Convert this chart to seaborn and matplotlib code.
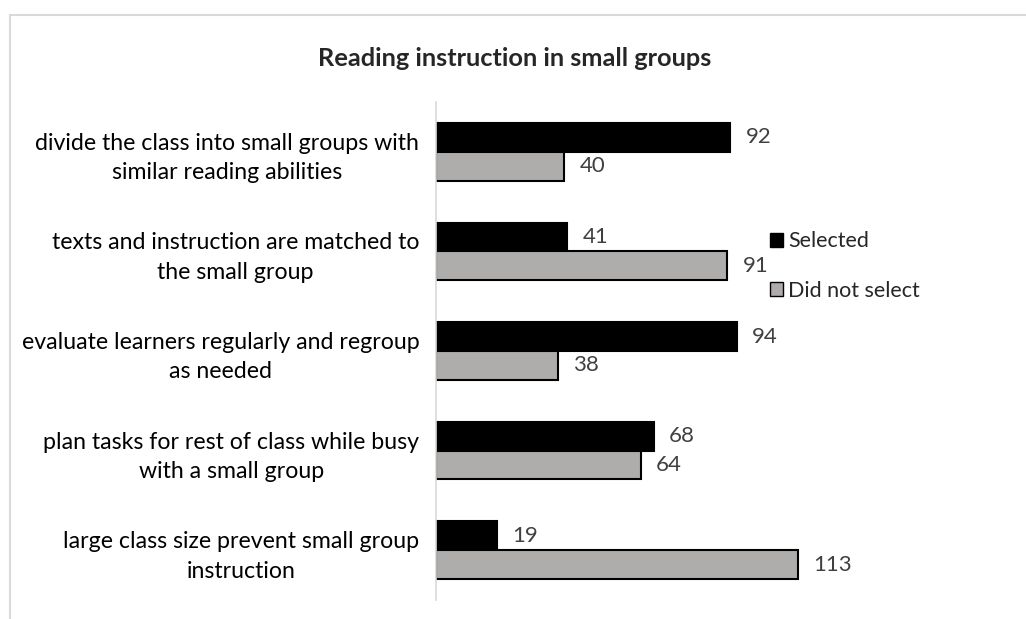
import matplotlib
matplotlib.use("Agg")
import matplotlib.pyplot as plt
import seaborn as sns
import pandas as pd
from matplotlib.patches import Patch

categories = [
    "divide the class into small groups with\nsimilar reading abilities",
    "texts and instruction are matched to\nthe small group",
    "evaluate learners regularly and regroup\nas needed",
    "plan tasks for rest of class while busy\nwith a small group",
    "large class size prevent small group\ninstruction",
]
selected = [92, 41, 94, 68, 19]
not_selected = [40, 91, 38, 64, 113]
series_names = ["Selected", "Did not select"]
colors = ["#000000", "#AFABAB"]

df = pd.DataFrame({
    "category": categories * 2,
    "value": selected + not_selected,
    "series": [series_names[0]] * len(categories) + [series_names[1]] * len(categories),
})

sns.set_theme(style="white")
plt.rcParams["font.family"] = ["Lato", "DejaVu Sans"]

fig = plt.figure(figsize=(10.26, 6.19), dpi=100)
ax = fig.add_axes([436 / 1026, 1 - 600 / 619, (820 - 436) / 1026, (600 - 102) / 619])

sns.barplot(data=df, y="category", x="value", hue="series", order=categories,
            hue_order=series_names, palette=colors, orient="h", width=0.58,
            edgecolor="black", linewidth=1.5, ax=ax, legend=False)

ax.set_xlim(0, 120)
ax.set_ylim(len(categories) - 0.5, -0.5)
ax.set_xlabel("")
ax.set_ylabel("")
ax.set_xticks([])
for s in ["top", "right", "bottom"]:
    ax.spines[s].set_visible(False)
ax.spines["left"].set_color("#D9D9D9")
ax.spines["left"].set_linewidth(1.2)

ax.tick_params(axis="y", length=0, pad=12)
for lbl in ax.get_yticklabels():
    lbl.set_fontsize(16.7)
    lbl.set_color("#000000")
    lbl.set_multialignment("center")
    lbl.set_linespacing(1.5)

for cont in ax.containers:
    ax.bar_label(cont, padding=11, fontsize=16, color="#404040")

handles = [Patch(facecolor=c, edgecolor="black", linewidth=1.0) for c in colors]
fig.legend(handles, series_names, loc="center left", bbox_to_anchor=(761 / 1026, 1 - 266 / 619),
           frameon=False, fontsize=15.5, handlelength=0.6, handleheight=0.6,
           handletextpad=0.25, labelspacing=1.35, borderaxespad=0)

fig.text(515 / 1026, 1 - 58 / 619, "Reading instruction in small groups",
         ha="center", va="center", fontsize=18.3, fontweight="bold")

# chart border
fig.add_artist(plt.Line2D([10 / 1026, 10 / 1026], [0, 1 - 15 / 619],
                          transform=fig.transFigure, color="#D9D9D9", linewidth=1.5))
fig.add_artist(plt.Line2D([10 / 1026, 1], [1 - 15 / 619, 1 - 15 / 619],
                          transform=fig.transFigure, color="#D9D9D9", linewidth=1.5))

fig.savefig("out.png", dpi=100)
